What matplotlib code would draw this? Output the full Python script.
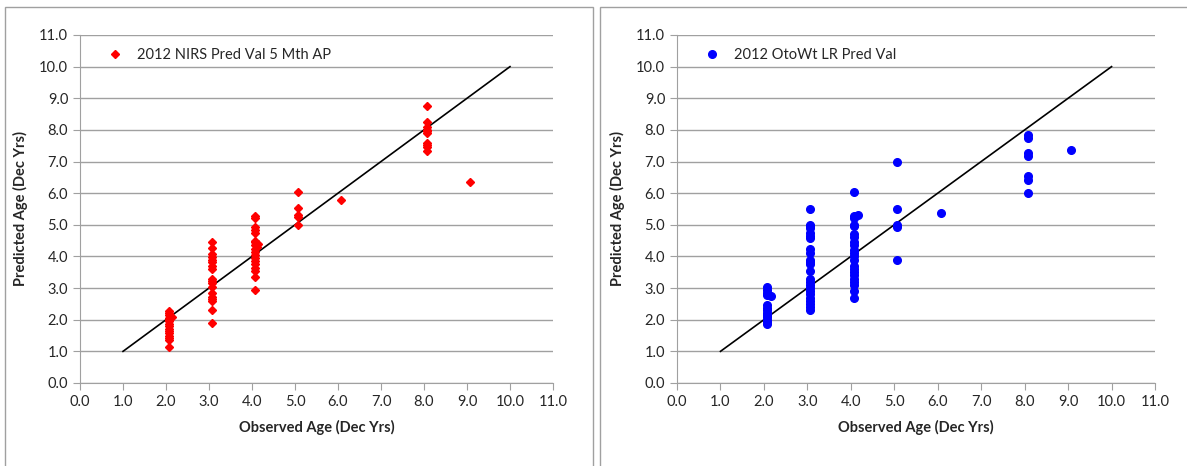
import matplotlib.pyplot as plt
from matplotlib.patches import Rectangle

plt.rcParams['font.family'] = ['Lato', 'DejaVu Sans']

# left panel: NIRS predictions (observed, predicted)
nirs_obs = [2.07] * 15 + [2.15] + [3.07] * 18 + [4.07] * 18 + [4.15, 4.12] + [5.07] * 5 + [6.07] + [8.07] * 10 + [9.07]
nirs_pred = [2.28, 2.22, 2.15, 2.05, 2.0, 1.95, 1.88, 1.8, 1.72, 1.65, 1.58, 1.5, 1.42, 1.35, 1.15,
             2.1,
             4.47, 4.28, 4.07, 3.98, 3.9, 3.82, 3.7, 3.6, 3.3, 3.22, 3.15, 3.05, 2.85, 2.72, 2.65, 2.58, 2.32, 1.9,
             5.27, 5.2, 4.92, 4.85, 4.75, 4.5, 4.45, 4.35, 4.25, 4.15, 4.05, 3.95, 3.85, 3.75, 3.65, 3.55, 3.35, 2.93,
             4.4, 4.3,
             6.05, 5.52, 5.32, 5.25, 4.98,
             5.8,
             8.75, 8.25, 8.1, 8.0, 7.95, 7.9, 7.6, 7.52, 7.45, 7.32,
             6.35]

# right panel: otolith weight LR predictions
oto_obs = [2.07] * 13 + [2.17] + [3.07] * 24 + [4.07] * 22 + [4.17] + [5.07] * 5 + [6.07] + [8.07] * 7 + [9.07]
oto_pred = [3.03, 2.95, 2.85, 2.78, 2.45, 2.38, 2.3, 2.22, 2.15, 2.08, 2.0, 1.93, 1.87,
            2.76,
            5.5, 5.0, 4.95, 4.9, 4.75, 4.65, 4.58, 4.25, 4.1, 3.9, 3.82, 3.75, 3.55, 3.3, 3.2, 3.1,
            3.0, 2.9, 2.8, 2.7, 2.6, 2.5, 2.4, 2.32,
            6.05, 5.28, 5.2, 5.0, 4.95, 4.7, 4.6, 4.45, 4.35, 4.2, 4.1, 4.0, 3.9, 3.7, 3.6, 3.5,
            3.4, 3.3, 3.2, 3.1, 2.9, 2.7,
            5.32,
            7.0, 5.5, 4.98, 4.92, 3.9,
            5.37,
            7.85, 7.75, 7.27, 7.17, 6.55, 6.42, 6.0,
            7.37]

ticks = [i * 1.0 for i in range(12)]
tick_labels = [f"{t:.1f}" for t in ticks]
one_to_one = [1.0, 10.0]

fig = plt.figure(figsize=(11.87, 4.66), dpi=100)

# panel frames (like the spreadsheet chart areas)
for x0 in (5 / 1187, 600 / 1187):
    fig.patches.append(Rectangle((x0, -0.05), 588 / 1187, 1.05 - 7 / 466,
                                 transform=fig.transFigure, fill=False,
                                 edgecolor='#a0a0a0', linewidth=1.0))

panels = [
    ([80 / 1187, 1 - 383 / 466, 473 / 1187, 348 / 466], nirs_obs, nirs_pred, 'D', 4.5,
     '#ff0000', '2012 NIRS Pred Val 5 Mth AP'),
    ([677 / 1187, 1 - 383 / 466, 478 / 1187, 348 / 466], oto_obs, oto_pred, 'o', 5.5,
     '#0000ff', '2012 OtoWt LR Pred Val'),
]

for rect, xs, ys, mk, ms, col, lab in panels:
    ax = fig.add_axes(rect)
    ax.plot(xs, ys, linestyle='none', marker=mk, markersize=ms, color=col, label=lab, zorder=3)
    ax.plot(one_to_one, one_to_one, color='black', linewidth=1.2, zorder=2)
    ax.set_xlim(0, 11)
    ax.set_ylim(0, 11)
    ax.set_xticks(ticks)
    ax.set_xticklabels(tick_labels)
    ax.set_yticks(ticks)
    ax.set_yticklabels(tick_labels)
    ax.yaxis.grid(True, color='#a0a0a0', linewidth=1.0, zorder=0)
    ax.set_axisbelow(True)
    for s in ('top', 'right'):
        ax.spines[s].set_visible(False)
    for s in ('left', 'bottom'):
        ax.spines[s].set_color('#a0a0a0')
    ax.tick_params(axis='both', colors='#a0a0a0', labelcolor='#262626', labelsize=10.5,
                   length=5, direction='out')
    ax.set_xlabel('Observed Age (Dec Yrs)', fontsize=10.5, fontweight='bold', color='#262626', labelpad=8)
    ax.set_ylabel('Predicted Age (Dec Yrs)', fontsize=10.5, fontweight='bold', color='#262626', labelpad=8)
    ax.legend(loc='upper left', bbox_to_anchor=(0.015, 1.0), frameon=False, fontsize=10.5,
              handletextpad=0.5, numpoints=1, labelcolor='#262626')

plt.savefig('out.png', dpi=100)
